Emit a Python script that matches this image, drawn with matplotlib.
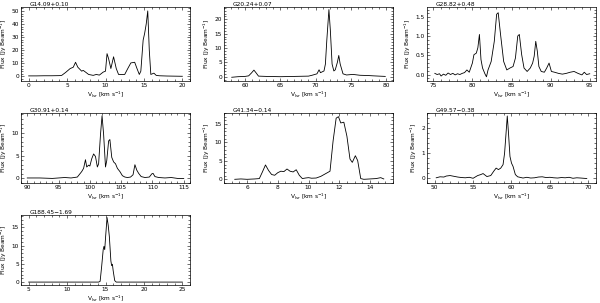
import matplotlib
matplotlib.use("Agg")
import matplotlib.pyplot as plt
from matplotlib.ticker import MultipleLocator

# ---------------- data ----------------
names = ["G14.09+0.10", "G20.24+0.07", "G28.82+0.48", "G30.91+0.14",
         "G41.34\u22120.14", "G49.57\u22120.38", "G188.45\u22121.69"]

v1 = [0.0, 1.0, 2.0, 3.0, 4.0, 4.3, 4.8, 5.4, 5.8, 6.0, 6.1, 6.4, 6.9, 7.1, 7.4, 7.8, 8.4, 8.8, 9.2,
      9.7, 10.0, 10.2, 10.4, 10.7, 11.05, 11.4, 11.7, 12.5, 12.9, 13.3, 13.8, 14.1, 14.4, 14.6, 14.9,
      15.1, 15.3, 15.5, 15.7, 15.9, 16.3, 16.6, 17.0, 18.0, 19.0, 20.0]
f1 = [0.4, 0.4, 0.5, 0.5, 0.6, 0.8, 3.0, 6.0, 7.0, 9.5, 10.8, 7.0, 4.0, 4.6, 3.3, 1.5, 0.8, 1.5, 1.0,
      3.3, 4.0, 17.4, 13.6, 6.0, 15.0, 6.0, 1.5, 1.5, 6.0, 10.3, 10.8, 6.0, 1.5, 4.0, 27.7,
      33.0, 40.0, 50.0, 20.0, 1.5, 2.5, 0.8, 0.5, 0.3, 0.2, 0.1]

v2 = [58.1, 59.0, 60.0, 60.5, 60.9, 61.25, 61.6, 61.9, 63.0, 65.0, 67.0, 69.0, 69.5, 70.2, 70.5, 70.7,
      71.2, 71.4, 71.6, 71.9, 72.1, 72.35, 72.6, 72.8, 73.1, 73.3, 73.5, 73.9, 74.4, 75.3, 76.3, 77.5,
      78.2, 79.0, 79.9]
f2 = [-0.2, 0.0, 0.1, 0.3, 1.3, 2.3, 1.2, 0.2, 0.1, 0.0, 0.1, 0.2, 0.5, 1.0, 2.4, 1.4,
      2.0, 4.4, 12.7, 23.4, 16.3, 4.4, 2.0, 2.4, 5.0, 7.4, 4.4, 1.0, 0.6, 0.8, 0.5, 0.4,
      0.3, 0.2, 0.1]

v3 = [75.2, 75.5, 75.8, 76.0, 76.3, 76.6, 76.9, 77.2, 77.5, 77.8, 78.1, 78.4, 78.7, 79.0, 79.3, 79.6,
      80.0, 80.2, 80.5, 80.7, 80.9, 81.1, 81.3, 81.6, 81.8, 82.0, 82.4, 82.8, 83.1, 83.3, 83.6, 84.0,
      84.4, 84.8, 85.2, 85.5, 85.8, 86.0, 86.3, 86.6, 87.0, 87.4, 87.7, 87.9, 88.1, 88.3, 88.5, 88.8,
      89.2, 89.5, 89.8, 90.1, 90.5, 91.0, 91.5, 92.0, 92.5, 93.0, 93.5, 94.0, 94.3, 94.6, 95.0]
f3 = [0.03, 0.00, 0.02, -0.04, 0.01, -0.02, 0.04, 0.00, 0.03, -0.01, 0.02, 0.00, 0.03, 0.05, 0.12, 0.06,
      0.30, 0.52, 0.56, 0.70, 1.05, 0.39, 0.17, 0.02, -0.06, 0.12, 0.34, 0.87, 1.58, 1.62, 1.05, 0.34,
      0.12, 0.17, 0.21, 0.43, 1.01, 1.05, 0.52, 0.17, 0.08, 0.17, 0.30, 0.48, 0.87, 0.61, 0.21, 0.08,
      0.06, 0.17, 0.30, 0.08, 0.06, 0.03, 0.01, 0.03, 0.06, 0.08, 0.03, -0.01, 0.06, 0.00, 0.02]

v4 = [90.0, 92.0, 94.0, 96.0, 97.0, 98.0, 98.7, 99.0, 99.3, 99.5, 99.8, 100.0, 100.3, 100.6, 100.9,
      101.2, 101.4, 101.7, 101.95, 102.2, 102.5, 102.7, 103.0, 103.2, 103.5, 103.8, 104.1, 104.4,
      104.8, 105.2, 105.6, 106.0, 106.5, 106.9, 107.2, 107.5, 107.8, 108.2, 108.8, 109.5, 109.9, 110.1,
      110.4, 111.0, 112.0, 113.0, 114.0, 115.0]
f4 = [0.1, 0.1, 0.0, 0.2, 0.1, 0.3, 1.5, 2.2, 4.1, 2.5, 2.9, 2.7, 4.3, 5.35, 4.8,
      2.5, 3.2, 9.6, 13.7, 9.6, 2.5, 3.9, 8.2, 8.5, 4.6, 3.6, 3.2, 2.2,
      1.5, 0.6, 0.3, 0.2, 0.3, 0.8, 3.0, 1.8, 1.1, 0.4, 0.2, 0.3, 1.0, 1.1,
      0.4, 0.2, 0.1, 0.2, 0.0, 0.0]

v5 = [5.2, 5.6, 6.0, 6.5, 6.8, 7.0, 7.2, 7.4, 7.6, 7.8, 8.0, 8.2, 8.4, 8.6, 8.8, 9.0, 9.2, 9.4, 9.6,
      9.8, 10.0, 10.2, 10.5, 10.8, 11.1, 11.4, 11.6, 11.8, 11.95, 12.1, 12.3, 12.5, 12.7, 12.85,
      13.05, 13.2, 13.4, 13.6, 14.0, 14.4, 14.7, 14.9]
f5 = [0.0, 0.1, 0.0, 0.1, 0.2, 2.0, 3.9, 2.4, 1.3, 1.1, 1.8, 2.2, 2.1, 2.8, 2.2, 2.0, 2.6, 1.1, 0.2,
      0.35, 0.45, 0.3, 0.35, 0.8, 1.5, 2.2, 10.4, 16.6, 17.0, 15.3, 15.5, 11.7, 5.5, 4.6,
      6.4, 5.1, 0.2, 0.0, 0.1, 0.2, 0.45, 0.1]

v6 = [50.2, 50.7, 51.2, 51.5, 52.0, 52.5, 53.0, 53.5, 54.0, 54.5, 55.0, 55.6, 56.0, 56.3, 56.8, 57.3,
      57.7, 58.0, 58.3, 58.6, 58.9, 59.1, 59.3, 59.45, 59.6, 59.8, 60.0, 60.2, 60.5, 60.8, 61.5, 62.0,
      62.5, 63.0, 63.5, 64.0, 64.5, 65.0, 65.5, 66.0, 66.5, 67.0, 67.5, 68.0, 68.5, 69.0, 69.8]
f6 = [0.01, 0.05, 0.04, 0.08, 0.10, 0.07, 0.04, 0.02, 0.01, 0.03, -0.01, 0.10, 0.14, 0.18, 0.06, 0.10,
      0.28, 0.40, 0.34, 0.40, 0.54, 1.00, 1.85, 2.50, 1.85, 0.87, 0.60, 0.47, 0.14, 0.05, 0.00, 0.03,
      0.00, 0.01, 0.04, 0.05, 0.02, 0.03, 0.01, 0.00, 0.02, 0.01, 0.03, -0.01, 0.01, 0.00, -0.02]

v7 = [5.0, 8.0, 11.0, 13.0, 14.1, 14.3, 14.5, 14.7, 14.8, 14.9, 15.0, 15.2, 15.35, 15.5, 15.7, 15.8,
      15.9, 16.0, 16.2, 16.4, 18.0, 21.0, 25.0]
f7 = [0.0, 0.0, 0.0, 0.0, 0.0, 0.2, 4.3, 8.9, 9.8, 8.9, 12.0, 17.7, 15.6, 12.5, 5.8, 4.5,
      4.9, 3.1, 0.4, 0.0, 0.0, 0.0, 0.0]

vels = [v1, v2, v3, v4, v5, v6, v7]
fluxes = [f1, f2, f3, f4, f5, f6, f7]

xlims = [(-1, 21), (57, 81), (74.2, 95.8), (89, 116), (4.5, 15.5), (49, 71), (4, 26)]
ylims = [(-3.5, 53), (-1.5, 24.3), (-0.17, 1.77), (-1.0, 14.3), (-1.0, 18.0), (-0.2, 2.62), (-0.8, 18.4)]
xmaj = [5, 5, 5, 5, 2, 5, 5]
xmin = [1, 1, 1, 1, 0.5, 1, 1]
ymaj = [10, 5, 0.5, 5, 5, 1, 5]
ymin = [2, 1, 0.1, 1, 1, 0.2, 1]

# ---------------- layout (pixels) ----------------
W, H = 600, 303
col_left = [21, 224, 427]
row_top = [7, 113, 215]
row_bot = [81, 183, 285]
aw = 169

fig = plt.figure(figsize=(W / 100, H / 100), dpi=100)
plt.rcParams['font.family'] = ['DejaVu Sans']
fs = 4.2

for i in range(7):
    r, c = divmod(i, 3)
    l = col_left[c]
    t = row_top[r]
    b = row_bot[r]
    ax = fig.add_axes([l / W, 1 - b / H, aw / W, (b - t) / H])
    ax.plot(vels[i], fluxes[i], color='black', lw=0.6)
    ax.set_xlim(*xlims[i])
    ax.set_ylim(*ylims[i])
    ax.xaxis.set_major_locator(MultipleLocator(xmaj[i]))
    ax.xaxis.set_minor_locator(MultipleLocator(xmin[i]))
    ax.yaxis.set_major_locator(MultipleLocator(ymaj[i]))
    ax.yaxis.set_minor_locator(MultipleLocator(ymin[i]))
    ax.tick_params(which='both', direction='in', top=True, right=True,
                   labelsize=fs, width=0.4, pad=1.5)
    ax.tick_params(which='major', length=2.5)
    ax.tick_params(which='minor', length=1.2)
    for s in ax.spines.values():
        s.set_linewidth(0.5)
    ax.set_xlabel(r"V$_{\rm lsr}$ [km s$^{-1}$]", fontsize=fs, labelpad=1)
    ax.set_ylabel(r"Flux [Jy Beam$^{-1}$]", fontsize=fs, labelpad=1.5)
    ax.text(0.05, 1.005, names[i], transform=ax.transAxes, fontsize=fs,
            ha='left', va='bottom')

fig.savefig("out.png", dpi=100)
